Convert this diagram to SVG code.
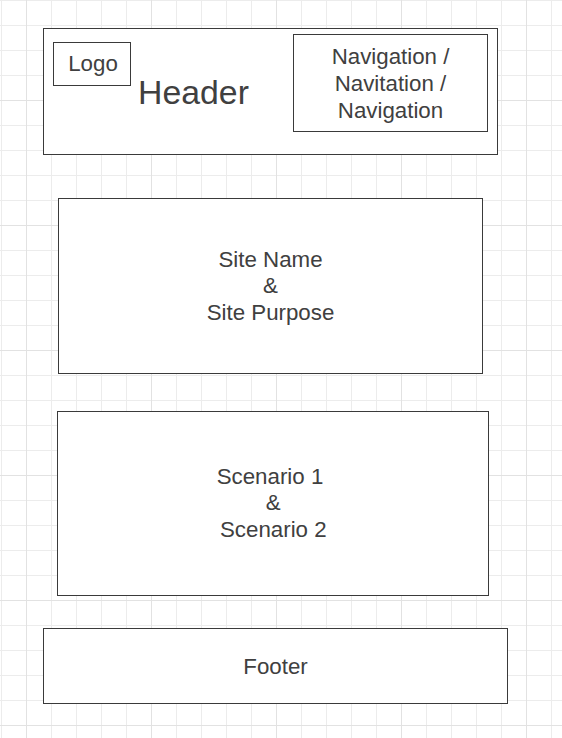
<svg xmlns="http://www.w3.org/2000/svg" width="562" height="738" viewBox="0 0 562 738">
<style>
.minor{stroke:#ececec;stroke-width:1;fill:none}
.major{stroke:#e2e2e2;stroke-width:1;fill:none}
.box{fill:#ffffff;stroke:#3a3a3a;stroke-width:1}
.t{font-family:"Liberation Sans",Arial,sans-serif;font-size:22.3px;fill:#404040;text-anchor:middle}
</style>
<rect x="0" y="0" width="562" height="738" fill="#ffffff"/>
<g id="grid">
<path class="minor" d="M1.5 0V738M51.5 0V738M76.5 0V738M101.5 0V738M126.5 0V738M176.5 0V738M201.5 0V738M226.5 0V738M251.5 0V738M301.5 0V738M326.5 0V738M351.5 0V738M376.5 0V738M426.5 0V738M451.5 0V738M476.5 0V738M501.5 0V738M551.5 0V738M0 0.5H562M0 25.5H562M0 50.5H562M0 75.5H562M0 125.5H562M0 150.5H562M0 175.5H562M0 200.5H562M0 250.5H562M0 275.5H562M0 300.5H562M0 325.5H562M0 375.5H562M0 400.5H562M0 425.5H562M0 450.5H562M0 500.5H562M0 525.5H562M0 550.5H562M0 575.5H562M0 625.5H562M0 650.5H562M0 675.5H562M0 700.5H562"/>
<path class="major" d="M26.5 0V738M151.5 0V738M276.5 0V738M401.5 0V738M526.5 0V738M0 100.5H562M0 225.5H562M0 350.5H562M0 475.5H562M0 600.5H562M0 725.5H562"/>
</g>
<g id="connectors"></g>
<g id="header">
<rect class="box" x="43.5" y="28.5" width="454" height="126"/>
<text class="t" x="193.5" y="103.8" style="font-size:33.8px">Header</text>
</g>
<g id="logo">
<rect class="box" x="53.5" y="42.5" width="77" height="43"/>
<text class="t" x="93" y="71.2">Logo</text>
</g>
<g id="navigation">
<rect class="box" x="293.5" y="34.5" width="194" height="97"/>
<text class="t" x="390.5" y="64.2">Navigation /</text>
<text class="t" x="390.5" y="90.9">Navitation /</text>
<text class="t" x="390.5" y="117.7">Navigation</text>
</g>
<g id="site">
<rect class="box" x="58.5" y="198.5" width="424" height="175"/>
<text class="t" x="270.5" y="266.5">Site Name</text>
<text class="t" x="270.5" y="293.2">&amp;</text>
<text class="t" x="270.5" y="319.9">Site Purpose</text>
</g>
<g id="scenarios">
<rect class="box" x="57.5" y="411.5" width="431" height="184"/>
<text class="t" x="270" y="483.7">Scenario 1</text>
<text class="t" x="273.3" y="510.4">&amp;</text>
<text class="t" x="273.3" y="537.1">Scenario 2</text>
</g>
<g id="footer">
<rect class="box" x="43.5" y="628.5" width="464" height="75"/>
<text class="t" x="275.5" y="673.7">Footer</text>
</g>
</svg>
